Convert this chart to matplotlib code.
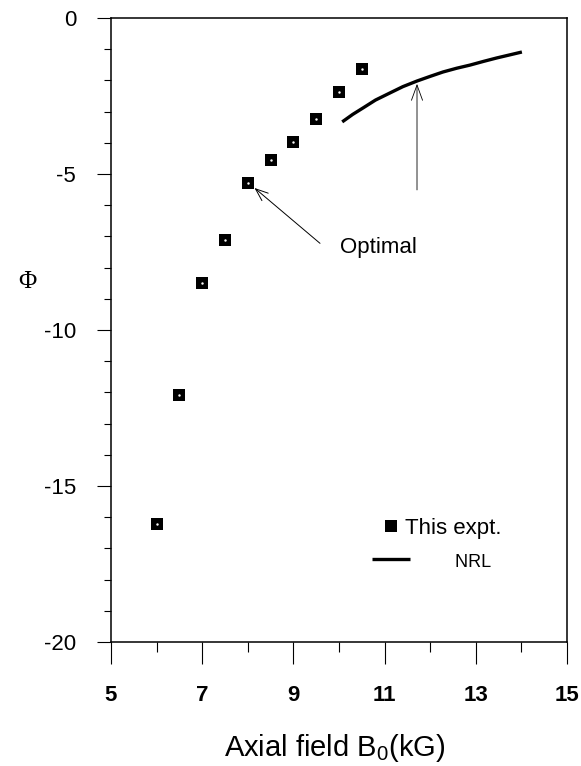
import numpy as np
import matplotlib

matplotlib.use("Agg")
import matplotlib.pyplot as plt

plt.rcParams["font.family"] = ["Liberation Sans", "DejaVu Sans"]
plt.rcParams["axes.unicode_minus"] = False
plt.rcParams["mathtext.fontset"] = "custom"
plt.rcParams["mathtext.rm"] = "Liberation Sans"

# measured points (this experiment)
b_expt = [6.0, 6.5, 7.0, 7.5, 8.0, 8.5, 9.0, 9.5, 10.0, 10.5]
phi_expt = [-16.22, -12.08, -8.49, -7.12, -5.29, -4.55, -3.97, -3.24, -2.37, -1.63]

# NRL curve
b_nrl = [10.07, 10.3, 10.53, 10.8, 11.12, 11.4, 11.71, 12.0, 12.28, 12.58, 12.87, 13.17, 13.46, 13.75, 14.01]
phi_nrl = [-3.33, -3.09, -2.88, -2.63, -2.40, -2.20, -2.02, -1.87, -1.73, -1.61, -1.51, -1.39, -1.28, -1.18, -1.09]

legend_labels = ["This expt.", " " * 10 + "NRL"]
x_major = [5, 7, 9, 11, 13, 15]
x_minor = [6, 8, 10, 12, 14]
y_major = [-20, -15, -10, -5, 0]
y_minor = [v for v in range(-19, 0) if v % 5 != 0]

fig = plt.figure(figsize=(5.81, 7.66), dpi=100)
ax = fig.add_axes([0.191, 0.1619, 0.785, 0.8146])

sq, = ax.plot(b_expt, phi_expt, "s", color="black", ms=8.5, mew=0, zorder=3)
ax.plot(b_expt, phi_expt, ".", color="white", ms=1.5, zorder=4)
nrl, = ax.plot(b_nrl, phi_nrl, "-", color="black", lw=2.4, solid_capstyle="butt")

# arrow to the "optimal" point
ax.annotate("", xy=(b_expt[4] + 0.1, phi_expt[4] - 0.1), xytext=(9.63, -7.28),
            arrowprops=dict(arrowstyle="->,head_length=0.9,head_width=0.35", lw=0.7, color="black"))
ax.text(10.02, -7.37, "Optimal", fontsize=16, va="center", ha="left")

# vertical arrow onto the NRL curve
ax.annotate("", xy=(b_nrl[6], phi_nrl[6]), xytext=(b_nrl[6], -5.6),
            arrowprops=dict(arrowstyle="->,head_length=1.1,head_width=0.4", lw=0.6, color="black"))

ax.set_xlim(5, 15)
ax.set_ylim(-20, 0)
ax.set_xticks(x_major)
ax.set_xticks(x_minor, minor=True)
ax.set_yticks(y_major)
ax.set_yticks(y_minor, minor=True)
ax.tick_params(axis="x", which="major", direction="out", length=16, width=0.8, pad=15,
               labelsize=16)
ax.tick_params(axis="x", which="minor", direction="out", length=7, width=0.8)
ax.tick_params(axis="y", which="major", direction="out", length=10, width=0.8, pad=15,
               labelsize=16)
ax.tick_params(axis="y", which="minor", direction="out", length=5, width=0.8)
for lab in ax.get_xticklabels():
    lab.set_fontweight("bold")
for s in ax.spines.values():
    s.set_linewidth(1.1)

leg = ax.legend([sq, nrl], legend_labels, loc="center left", bbox_to_anchor=(0.572, 0.156),
                frameon=False, fontsize=16, handlelength=1.7, handletextpad=-0.2,
                labelspacing=0.55, borderpad=0, borderaxespad=0, markerscale=1.0)
leg.get_texts()[1].set_fontsize(13)

fig.text(0.577, 0.023, r"Axial field B$_{\mathrm{0}}$(kG)", fontsize=21, ha="center", va="center")
fig.text(0.047, 0.632, "\u03a6", fontsize=18, family=["Liberation Serif", "DejaVu Serif"],
         ha="center", va="center")

fig.savefig("out.png", dpi=100)
